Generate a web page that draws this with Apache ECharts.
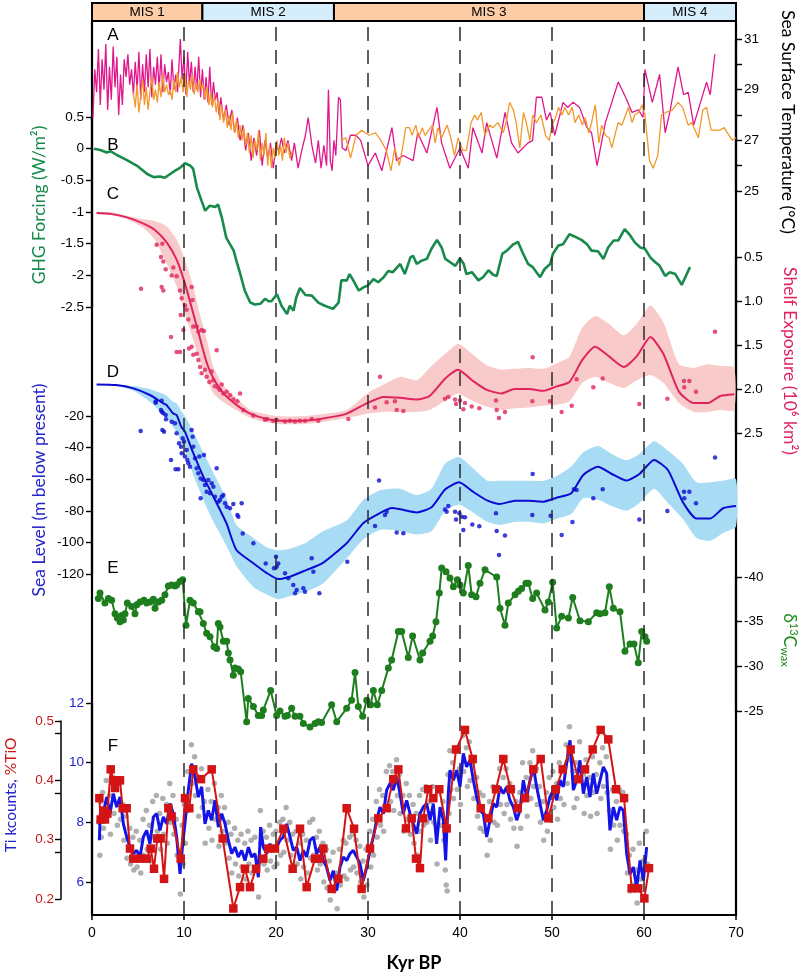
<!DOCTYPE html>
<html><head><meta charset="utf-8">
<script src="https://cdn.jsdelivr.net/npm/echarts@6/dist/echarts.min.js"></script>
<style>html,body{margin:0;padding:0;background:#fff}#c{width:807px;height:977px}</style>
</head><body><div id="c"></div>
<script>
// ---------- DATA ----------
const misStarts = [0, 12, 26.3, 60];
const misEnds   = [12, 26.3, 60, 70];
const misLabels = ['MIS 1', 'MIS 2', 'MIS 3', 'MIS 4'];
const dashedAt  = [10, 20, 30, 40, 50, 60];

// A: SST (°C)
const sstMagenta = [[0.1,27.9],[0.3,29.8],[0.5,28.9],[0.7,30.6],[0.9,28.4],[1.1,30.2],[1.3,29.0],[1.5,30.8],[1.7,28.2],[1.9,29.9],[2.1,28.6],[2.3,30.7],[2.5,29.1],[2.7,30.3],[2.9,28.0],[3.1,29.6],[3.3,28.4],[3.5,30.2],[3.7,29.5],[3.9,30.4],[4.1,29.2],[4.3,29.8],[4.5,28.8],[4.7,30.1],[4.9,29.0],[5.1,30.5],[5.3,28.6],[5.5,30.0],[5.7,28.9],[5.9,30.4],[6.1,29.1],[6.3,30.6],[6.5,28.7],[6.7,29.9],[6.9,29.2],[7.1,30.3],[7.3,29.0],[7.5,30.4],[7.7,28.9],[7.9,30.0],[8.1,29.3],[8.3,29.7],[8.5,28.8],[8.7,30.2],[8.9,29.0],[9.1,29.6],[9.3,28.9],[9.6,31.0],[9.8,29.4],[10.0,30.3],[10.2,28.8],[10.4,30.5],[10.6,29.2],[10.8,30.1],[11.0,28.9],[11.2,29.9],[11.4,29.0],[11.6,30.3],[11.8,28.7],[12.0,29.8],[12.2,28.6],[12.4,29.5],[12.6,28.5],[12.8,29.9],[13.0,28.4],[13.2,29.3],[13.4,28.6],[13.6,28.9],[13.8,28.0],[14.0,28.7],[14.3,27.8],[14.6,28.4],[14.9,27.6],[15.2,28.2],[15.5,27.3],[15.8,27.9],[16.1,27.0],[16.4,27.6],[16.7,26.6],[17.0,27.3],[17.3,26.2],[17.6,27.1],[17.9,26.4],[18.2,27.4],[18.5,26.0],[18.8,27.0],[19.1,26.3],[19.4,26.9],[19.7,25.9],[20.0,26.8],[20.3,26.6],[20.6,27.1],[20.9,26.5],[21.3,27.0],[21.7,26.2],[22.0,26.9],[22.4,25.9],[22.8,26.6],[23.2,27.2],[23.5,27.9],[23.9,26.8],[24.3,26.1],[24.6,27.0],[24.9,25.9],[25.2,26.8],[25.5,26.0],[25.7,29.0],[25.9,26.2],[26.1,25.8],[26.3,27.0],[26.5,26.4],[26.8,28.7],[27.0,28.6],[27.2,26.7],[27.6,26.6],[28.1,27.2],[28.7,27.2],[29.2,27.0],[30.0,26.0],[30.8,26.5],[31.5,25.8],[32.6,27.5],[33.1,26.2],[33.8,26.4],[34.9,26.2],[35.4,27.3],[36.4,26.5],[37.5,28.3],[38.0,26.9],[38.9,25.9],[40.0,26.7],[40.9,25.9],[41.4,27.5],[42.4,26.5],[42.9,27.7],[44.0,26.3],[44.9,28.1],[45.6,26.9],[46.3,26.5],[47.4,26.9],[47.9,27.0],[48.3,28.7],[48.9,28.7],[49.4,27.8],[49.8,28.1],[50.3,27.2],[51.2,28.5],[51.7,28.3],[52.3,28.5],[53.0,28.3],[53.8,27.5],[54.3,27.3],[54.9,26.0],[55.8,27.7],[56.5,28.5],[56.7,28.5],[57.2,29.3],[58.0,28.7],[58.7,28.1],[59.4,28.2],[59.9,27.9],[60.1,29.8],[60.9,28.5],[61.7,29.6],[62.3,27.3],[62.8,28.1],[63.7,29.9],[64.3,28.8],[64.8,28.9],[65.4,27.6],[66.8,29.3],[67.2,28.8],[67.7,30.4]];
const sstOrange = [[4.5,28.9],[4.7,28.3],[4.9,29.2],[5.1,28.1],[5.3,28.8],[5.5,29.4],[5.7,28.4],[5.9,29.1],[6.1,28.2],[6.3,28.9],[6.5,29.5],[6.7,28.6],[6.9,29.0],[7.1,28.5],[7.3,29.3],[7.5,28.7],[7.7,29.6],[7.9,28.9],[8.1,29.2],[8.3,28.8],[8.5,29.0],[8.7,28.6],[8.9,29.4],[9.1,28.9],[9.3,29.7],[9.5,29.1],[9.7,29.5],[9.9,28.9],[10.1,29.6],[10.3,28.7],[10.5,29.4],[10.7,29.0],[10.9,29.6],[11.1,28.8],[11.3,29.3],[11.5,28.9],[11.7,29.4],[11.9,29.0],[12.1,29.2],[12.3,28.6],[12.5,29.1],[12.7,28.4],[12.9,28.9],[13.1,28.3],[13.3,28.8],[13.5,28.1],[13.7,28.6],[13.9,27.8],[14.1,28.4],[14.3,27.7],[14.5,28.2],[14.7,27.5],[14.9,28.0],[15.1,27.4],[15.3,28.1],[15.5,27.3],[15.7,27.8],[15.9,27.1],[16.1,27.6],[16.3,27.0],[16.5,27.5],[16.7,26.8],[16.9,27.3],[17.1,26.5],[17.3,27.2],[17.5,26.3],[17.7,27.0],[17.9,26.6],[18.1,27.4],[18.3,26.2],[18.5,26.9],[18.7,26.4],[18.9,27.3],[19.1,26.0],[19.3,26.8],[19.5,25.9],[19.7,26.7],[19.9,26.3],[20.1,27.0],[20.3,26.4],[20.5,26.8],[20.7,26.2],[20.9,27.1],[21.1,26.5],[21.3,26.9],[21.5,26.3],[21.8,26.6],[null,null],[27.0,27.0],[27.6,27.1],[28.1,26.3],[28.7,27.2],[29.3,27.4],[30.1,27.2],[30.8,27.3],[31.4,27.0],[32.0,26.6],[32.5,25.8],[32.9,26.7],[33.2,26.3],[33.4,26.0],[33.8,26.8],[34.1,27.5],[34.5,27.5],[34.8,27.2],[35.2,27.6],[35.5,27.1],[35.9,27.5],[36.2,27.2],[36.6,27.4],[37.0,27.6],[37.3,26.9],[37.6,27.5],[38.0,27.1],[38.6,27.6],[39.0,27.1],[39.4,26.4],[39.8,27.1],[40.3,26.6],[40.7,26.6],[41.2,27.7],[41.6,28.0],[41.9,27.8],[42.3,28.1],[42.7,27.2],[43.2,27.6],[43.6,27.5],[44.1,27.7],[44.7,27.3],[45.0,27.7],[45.4,28.5],[45.8,28.2],[46.1,27.7],[46.5,26.7],[46.9,28.1],[47.2,27.7],[47.6,27.0],[47.9,28.0],[48.3,27.7],[48.8,28.0],[49.3,27.2],[49.7,27.0],[50.0,27.6],[50.4,27.9],[50.7,28.3],[51.1,28.0],[51.4,28.3],[51.8,28.0],[52.2,28.3],[52.5,27.7],[52.9,28.0],[53.3,27.6],[53.6,27.9],[54.0,27.3],[54.3,27.7],[54.7,28.4],[55.1,26.9],[55.4,27.6],[55.8,27.2],[56.2,27.1],[56.5,26.7],[56.9,27.3],[57.2,27.7],[57.6,27.6],[57.9,27.9],[58.3,28.3],[58.7,27.7],[59.0,28.0],[59.4,28.1],[59.8,28.4],[60.1,28.0],[60.6,26.2],[61.0,25.9],[61.5,26.4],[61.9,28.0],[62.4,28.1],[63.1,28.2],[63.7,28.5],[64.2,28.3],[64.8,27.6],[65.2,27.7],[65.9,27.1],[66.4,28.2],[66.8,28.3],[67.3,27.4],[68.2,27.4],[68.7,27.5],[69.6,27.0],[70.0,27.1]];

// B: GHG forcing (W/m2)
const ghg = [[0.2,0],[0.9,-0.02],[1.6,-0.06],[2.0,-0.04],[2.7,-0.1],[3.8,-0.18],[4.9,-0.27],[6.0,-0.4],[6.7,-0.45],[7.4,-0.44],[7.9,-0.46],[8.5,-0.4],[9.0,-0.35],[9.6,-0.3],[10.1,-0.23],[10.7,-0.27],[11.0,-0.32],[11.4,-0.61],[11.9,-0.82],[12.3,-0.98],[12.8,-0.9],[13.4,-0.92],[13.7,-0.88],[14.1,-1.08],[14.6,-1.41],[15.4,-1.61],[15.7,-1.77],[16.1,-1.97],[16.6,-2.24],[17.2,-2.43],[17.7,-2.46],[18.3,-2.45],[18.8,-2.37],[19.2,-2.41],[19.5,-2.41],[20.1,-2.30],[20.6,-2.48],[21.2,-2.61],[21.5,-2.48],[21.9,-2.56],[22.2,-2.35],[22.6,-2.2],[23.2,-2.31],[23.9,-2.32],[24.6,-2.43],[25.3,-2.48],[26.2,-2.53],[26.8,-2.43],[27.1,-2.08],[27.7,-2.08],[28.0,-1.98],[28.4,-2.08],[29.0,-2.24],[29.5,-2.19],[30.0,-2.16],[30.6,-2.06],[31.1,-2.11],[31.7,-2.03],[32.2,-1.93],[32.7,-1.95],[33.5,-1.82],[34.0,-1.98],[34.6,-1.72],[34.9,-1.69],[35.3,-1.82],[35.8,-1.77],[36.4,-1.74],[36.9,-1.58],[37.5,-1.44],[38.0,-1.56],[38.4,-1.74],[38.9,-1.79],[39.5,-1.85],[40.0,-1.73],[40.4,-1.82],[40.7,-1.98],[41.3,-1.95],[42.0,-2.08],[42.5,-2.03],[43.1,-1.92],[43.6,-1.99],[44.0,-2.01],[44.6,-1.66],[45.1,-1.61],[45.8,-1.51],[46.3,-1.47],[46.8,-1.64],[47.4,-1.82],[47.9,-1.87],[48.7,-2.03],[49.2,-1.9],[49.8,-1.82],[50.1,-1.66],[50.7,-1.53],[51.2,-1.51],[51.9,-1.35],[52.5,-1.39],[53.2,-1.44],[53.8,-1.51],[54.3,-1.61],[55.0,-1.62],[55.6,-1.74],[56.1,-1.56],[56.7,-1.45],[57.2,-1.45],[57.9,-1.27],[58.5,-1.37],[59.0,-1.48],[59.6,-1.56],[60.1,-1.58],[60.7,-1.72],[61.2,-1.79],[61.7,-1.85],[62.3,-2.01],[62.8,-1.95],[63.4,-1.98],[64.1,-2.15],[65.0,-1.87]];

// C: Shelf exposure (10^6 km2)
const shelfX    = [0.5,2,3.8,5.6,6.8,8.1,9.2,10.1,11.0,11.7,12.5,13.2,14.3,15.7,17.2,19,20.4,22.6,24.8,27.7,29.9,31.7,33.5,35.3,36.7,38.4,39.8,41.3,42.9,44.5,45.9,47.5,49.1,50.5,51.9,53.3,54.7,56.2,57.8,59.2,60.7,62.1,63.8,65.4,66.9,68.3,69.8];
const shelfMid  = [0.0,0.01,0.05,0.12,0.19,0.33,0.53,0.80,1.14,1.41,1.71,1.88,2.05,2.18,2.28,2.34,2.36,2.36,2.34,2.28,2.16,2.09,2.10,2.12,2.08,1.88,1.78,1.90,2.01,2.05,2.00,2.00,2.02,1.97,1.92,1.67,1.52,1.63,1.75,1.63,1.41,1.60,2.03,2.16,2.16,2.08,2.06];
const shelfLow  = [-0.01,-0.01,0.03,0.07,0.09,0.15,0.3,0.53,0.83,1.14,1.45,1.75,1.96,2.1,2.24,2.29,2.31,2.31,2.29,2.24,2.05,1.95,1.86,1.9,1.76,1.6,1.49,1.6,1.73,1.78,1.77,1.76,1.77,1.71,1.63,1.3,1.17,1.26,1.39,1.26,1.05,1.24,1.72,1.76,1.72,1.74,1.76];
const shelfHigh = [0.01,0.02,0.07,0.17,0.3,0.57,0.83,1.14,1.44,1.67,1.88,2.05,2.15,2.24,2.33,2.38,2.40,2.40,2.38,2.33,2.28,2.26,2.26,2.26,2.24,2.13,2.05,2.13,2.2,2.24,2.22,2.21,2.19,2.18,2.14,1.93,1.86,1.93,1.99,1.9,1.84,1.93,2.16,2.26,2.26,2.24,2.24];
const shelfDots = [[5.33,0.86],[7.03,0.36],[7.65,0.35],[7.5,0.50],[7.75,0.55],[8.01,0.64],[7.57,0.84],[7.75,0.88],[8.66,0.71],[8.84,0.62],[9.2,0.72],[9.57,0.88],[9.75,0.97],[9.64,1.16],[10.1,1.05],[9.93,1.33],[10.29,1.10],[10.47,1.21],[10.83,0.84],[10.94,0.99],[11.01,1.29],[11.38,1.29],[11.56,1.35],[11.92,1.33],[12.17,1.34],[8.59,1.41],[9.2,1.58],[9.57,1.58],[10.54,1.54],[10.83,1.52],[11.01,1.61],[11.38,1.60],[11.56,1.67],[11.74,1.75],[11.92,1.82],[12.28,1.78],[12.46,1.86],[12.75,1.92],[13.0,1.80],[13.19,1.90],[13.37,1.97],[13.55,1.56],[13.73,1.99],[13.91,2.01],[14.1,1.95],[14.28,2.05],[14.64,2.03],[15.0,2.07],[15.36,2.12],[15.8,2.14],[16.09,2.05],[16.45,2.24],[17.54,2.30],[18.8,2.35],[18.99,2.34],[19.7,2.36],[20.07,2.35],[20.98,2.37],[21.52,2.36],[22.07,2.37],[22.6,2.36],[23.15,2.36],[23.88,2.34],[24.6,2.36],[27.86,2.34],[30.76,2.21],[31.3,1.86],[32.03,2.15],[32.93,2.14],[33.12,2.24],[33.84,2.25],[38.37,2.11],[38.73,2.09],[39.46,2.12],[39.57,2.17],[40.0,2.13],[40.36,2.23],[40.54,2.16],[41.27,2.20],[42.1,2.22],[43.91,2.13],[43.99,2.24],[44.24,2.33],[44.89,2.26],[47.9,1.64],[47.86,2.14],[49.78,2.14],[51.05,2.26],[52.14,2.19],[52.68,1.89],[54.49,1.98],[55.51,1.88],[59.49,2.17],[62.54,2.11],[64.35,1.91],[64.93,1.91],[64.38,1.98],[65.65,2.03],[67.72,1.35]];

// D: Sea level (m below present)
const seaX    = [0.5,2.6,4.5,6.3,7.75,8.1,8.8,9.2,9.7,10.1,11.0,12.1,13.2,14.6,15.7,17.5,19,20.25,21.5,23.3,25.1,27.7,29.5,31.3,32.6,33.5,35.3,36.9,38.4,39.9,41.4,43.0,44.3,46.0,47.4,49.1,50.5,52.1,53.4,55.0,56.5,58.1,59.5,61.1,62.6,64.2,65.7,67.2,68.6,70];
const seaMid  = [0,-0.4,-2.5,-6.7,-12,-13,-18.3,-19.4,-26.8,-29.9,-43.4,-58.4,-71.1,-87.7,-104.8,-113,-119.4,-123.2,-121.7,-117.5,-113,-100.4,-87.7,-81.4,-78.2,-79,-81,-77.8,-66.4,-62,-67.9,-73.6,-75.7,-73.6,-73.6,-74.2,-71.7,-68.9,-57.3,-52.1,-56.7,-60.9,-56.7,-47.8,-54.2,-74.2,-84.8,-84.8,-78.4,-77];
const seaTop  = [0,0,-1,-3,-6,-7,-11,-12,-17,-20,-30,-43,-56,-72,-89,-97,-103,-105,-104,-100,-93,-86,-73,-67,-66,-66,-70,-66,-50,-46,-53,-61,-61,-61,-61,-61,-58,-52,-43,-39,-44,-48,-44,-36,-42,-50,-62,-62,-61,-60];
const seaBot  = [0,-1,-4,-11,-19,-21,-27,-30,-37,-42,-57,-73,-87,-102,-115,-128,-133,-136,-134,-131,-126,-110,-98,-92,-92,-93,-95,-93,-80,-76,-81,-87,-89,-87,-87,-88,-85,-82,-72,-73,-77,-80,-75,-66,-75,-85,-97,-99,-94,-90];
const seaDots = [[5.29,-29.5],[6.92,-10.9],[7.57,-10.3],[7.5,-16.2],[7.75,-18.3],[6.92,-11.6],[7.57,-17.3],[7.65,-28.9],[7.83,-29.9],[8.01,-19.4],[8.04,-22.1],[8.66,-23.6],[8.59,-47.8],[9.02,-24.6],[9.2,-30.9],[9.46,-37.3],[9.38,-53.7],[9.09,-53.7],[9.67,-39.4],[9.75,-43.6],[9.86,-34.1],[10.0,-36.2],[10.1,-45.7],[10.29,-41.5],[10.36,-47.8],[10.47,-49.9],[10.65,-52.1],[10.83,-28.9],[10.94,-33.1],[11.01,-39.4],[11.2,-46.8],[11.38,-53.1],[11.56,-56.3],[11.67,-45.7],[11.81,-59.5],[12.1,-60.5],[12.17,-44.7],[12.28,-63.7],[11.81,-72.1],[12.46,-67.9],[12.64,-60.5],[12.83,-68.9],[13.01,-62.6],[13.19,-64.7],[13.37,-71.1],[13.55,-53.1],[13.73,-74.2],[13.91,-73.2],[14.1,-71.1],[14.28,-70.0],[14.46,-75.3],[14.64,-77.4],[15.0,-78.4],[15.36,-75.7],[15.8,-82.7],[15.9,-83.7],[16.27,-75.3],[16.38,-94.3],[17.54,-100.6],[18.88,-113.3],[20.0,-109.1],[20.07,-115.4],[20.25,-113.3],[19.78,-116.4],[20.98,-119.6],[21.34,-122.7],[21.88,-127],[22.07,-132.2],[22.25,-130.1],[22.97,-129],[23.15,-131.2],[23.88,-110.1],[24.06,-118.5],[24.71,-132.2],[27.75,-112.2],[30.76,-89.6],[31.2,-60.9],[31.85,-82.7],[32.03,-80.6],[33.12,-93.7],[33.84,-94.2],[38.37,-79.1],[38.73,-77.0],[38.55,-80.6],[39.46,-80.6],[39.57,-85.5],[39.93,-81.6],[40.18,-83.7],[40.36,-92.1],[40.54,-84.1],[41.34,-88.6],[42.1,-89.8],[43.91,-81.6],[43.99,-92.8],[44.24,-108],[44.89,-95.7],[47.9,-56.7],[47.86,-82.7],[49.85,-83.1],[51.05,-95.3],[52.22,-87.1],[52.39,-66.4],[52.68,-66.8],[54.49,-72.1],[55.51,-66.4],[59.49,-85.5],[62.54,-80.2],[64.35,-68],[64.93,-68],[64.38,-72.1],[65.65,-75.3],[67.72,-46.2]];

// E: d13C wax (permil)
const d13c = [[0.69,-37.6],[0.87,-38.2],[1.41,-37.1],[1.78,-37.6],[2.14,-37.4],[2.5,-35.9],[2.75,-35.4],[3.04,-35.0],[3.22,-35.7],[3.41,-35.2],[3.59,-35.9],[3.84,-37.1],[4.31,-36.7],[4.67,-35.9],[4.86,-36.9],[5.22,-37.2],[5.65,-37.4],[5.94,-37.1],[6.3,-37.2],[6.67,-37.5],[6.85,-36.5],[7.21,-37.2],[7.57,-37.4],[7.93,-38.0],[8.3,-39.0],[8.66,-39.1],[9.02,-39.0],[9.2,-39.1],[9.57,-39.5],[9.86,-39.7],[10.22,-34.6],[10.65,-37.4],[11.01,-37.1],[11.56,-36.1],[11.74,-36.1],[12.1,-34.8],[12.46,-33.7],[12.83,-33.3],[13.26,-32.2],[13.55,-32.0],[13.73,-34.8],[13.91,-34.4],[14.28,-32.8],[14.64,-32.8],[14.82,-31.5],[15.0,-30.7],[15.36,-29.0],[15.54,-29.8],[15.9,-29.7],[16.16,-29.4],[16.81,-23.8],[16.99,-26.4],[17.54,-25.5],[18.08,-24.5],[18.44,-24.5],[18.62,-25.1],[19.42,-27.3],[20.07,-24.5],[20.43,-25.0],[20.98,-24.4],[21.23,-24.5],[21.7,-25.3],[22.07,-24.4],[22.6,-24.4],[22.97,-23.6],[23.7,-23.2],[24.24,-23.6],[24.6,-23.8],[24.96,-23.7],[26.05,-25.7],[26.6,-23.8],[27.68,-25.3],[28.22,-26.2],[28.59,-29.3],[28.95,-25.5],[29.42,-24.4],[29.86,-26.2],[30.29,-25.7],[30.58,-27.3],[31.01,-25.7],[31.49,-27.3],[32.21,-29.8],[32.57,-30.7],[33.3,-33.9],[33.66,-33.9],[34.38,-31.0],[34.85,-33.4],[35.65,-30.7],[35.94,-31.5],[36.74,-32.8],[37.03,-33.4],[37.39,-35.0],[37.75,-38.2],[38.01,-41.0],[38.48,-40.6],[38.91,-39.9],[39.28,-38.9],[39.71,-39.7],[40.0,-39.1],[40.36,-38.2],[40.9,-41.3],[41.27,-38.0],[41.74,-37.8],[42.17,-39.3],[42.72,-40.8],[43.99,-40.0],[44.35,-36.5],[44.89,-34.6],[45.25,-37.1],[45.98,-38.0],[46.34,-38.4],[46.7,-38.7],[47.17,-39.3],[47.43,-39.3],[47.9,-37.6],[48.33,-38.2],[49.24,-36.3],[49.6,-37.2],[50.07,-39.4],[50.51,-34.3],[51.05,-35.6],[51.78,-35.4],[52.25,-37.7],[53.04,-35.1],[53.95,-35.0],[54.86,-36.0],[55.22,-35.9],[55.76,-36.0],[56.23,-38.9],[56.67,-36.5],[57.39,-36.1],[57.93,-31.7],[58.48,-32.5],[58.91,-32.5],[59.38,-30.4],[59.75,-33.9],[60.11,-33.3],[60.29,-32.8]];

// F: Ti kcounts (blue line, grey raw) and %TiO (red)
const tiBlue = [[0.8,7.4],[0.9,8.3],[1.2,8.29],[1.6,8.85],[1.96,8.29],[2.32,8.96],[2.68,8.51],[3.04,8.85],[3.41,7.95],[3.77,7.51],[4.13,7.17],[4.49,6.95],[4.86,7.06],[5.22,6.84],[5.58,7.51],[5.94,7.73],[6.3,7.28],[6.67,8.18],[7.03,8.29],[7.39,7.73],[7.75,8.18],[8.12,7.95],[8.48,8.63],[8.84,8.29],[9.2,7.51],[9.57,6.27],[9.86,7.28],[10.1,7.95],[10.47,9.08],[10.83,9.97],[11.2,9.52],[11.56,8.85],[11.92,9.19],[12.28,7.95],[12.64,8.4],[13.0,8.07],[13.37,8.74],[13.73,7.84],[14.1,8.29],[14.46,7.95],[14.82,7.4],[15.18,6.95],[15.54,7.17],[15.9,6.84],[16.27,7.06],[16.63,6.72],[17.0,7.17],[17.35,6.84],[17.72,6.95],[18.08,6.16],[18.33,7.84],[18.62,7.17],[18.99,6.95],[19.35,7.28],[19.71,7.06],[20.07,7.17],[20.43,7.4],[20.8,7.51],[21.16,7.95],[21.52,7.51],[21.88,7.06],[22.25,7.17],[22.61,6.72],[22.97,7.06],[23.33,6.84],[23.7,7.4],[24.06,7.51],[24.42,6.95],[24.78,7.17],[25.14,6.72],[25.5,6.5],[25.87,6.05],[26.23,6.38],[26.6,5.71],[26.96,6.5],[27.32,6.84],[27.68,6.72],[28.04,6.95],[28.4,7.06],[28.77,6.84],[29.13,6.61],[29.49,6.05],[29.86,6.5],[30.22,7.06],[30.58,7.51],[30.94,8.07],[31.3,8.51],[31.67,8.29],[32.03,9.08],[32.39,9.3],[32.75,9.08],[33.12,9.52],[33.48,8.96],[33.84,8.29],[34.2,8.74],[34.57,8.29],[34.93,7.95],[35.29,7.62],[35.65,8.29],[36.0,8.51],[36.38,8.63],[36.75,8.07],[37.1,8.63],[37.46,7.28],[37.83,8.51],[38.19,8.07],[38.44,6.72],[38.73,8.96],[38.91,9.75],[39.28,9.41],[39.64,9.75],[40.0,9.19],[40.36,10.31],[40.72,9.86],[41.09,10.08],[41.45,9.41],[41.81,8.85],[42.17,8.4],[42.54,8.29],[42.9,7.51],[43.26,8.07],[43.62,8.63],[43.99,8.51],[44.35,9.19],[44.71,8.96],[45.07,9.19],[45.43,8.74],[45.8,8.51],[46.16,8.07],[46.52,8.4],[46.88,9.41],[47.25,8.85],[47.61,9.41],[47.97,9.86],[48.33,9.19],[48.7,8.63],[49.06,8.07],[49.42,8.4],[49.78,8.85],[50.14,9.08],[50.51,8.74],[50.87,9.41],[51.23,9.19],[51.59,9.97],[51.96,10.75],[52.32,9.08],[52.68,9.41],[53.04,10.08],[53.41,8.96],[53.77,9.52],[54.13,8.85],[54.49,9.64],[54.86,8.96],[55.22,9.41],[55.58,9.86],[55.94,9.64],[56.3,7.73],[56.67,8.51],[57.03,8.07],[57.39,8.51],[57.75,8.4],[58.12,6.95],[58.48,6.27],[58.84,6.5],[59.2,5.82],[59.57,6.72],[59.93,6.05],[60.29,7.17]];
const tiGrey = [[0.75,8.0],[0.85,6.9],[0.95,8.7],[1.0,7.5],[1.15,9.0],[1.25,7.8],[1.55,9.4],[1.65,8.2],[1.9,8.9],[2.0,7.6],[2.3,9.5],[2.4,8.3],[2.6,9.2],[2.75,7.9],[3.0,9.3],[3.1,8.1],[3.35,8.6],[3.45,7.4],[3.7,8.2],[3.8,6.8],[4.1,7.8],[4.2,6.6],[4.45,7.5],[4.55,6.4],[4.8,7.7],[4.9,6.5],[5.2,7.4],[5.3,6.3],[5.55,8.1],[5.6,6.9],[5.9,8.4],[6.0,7.1],[6.25,7.9],[6.35,6.7],[6.6,8.7],[6.7,7.5],[7.0,8.9],[7.1,7.7],[7.35,8.3],[7.45,7.1],[7.7,8.8],[7.8,7.6],[8.1,8.6],[8.2,7.3],[8.45,9.3],[8.55,8.0],[8.8,8.9],[8.9,7.6],[9.15,8.1],[9.25,6.9],[9.5,6.9],[9.6,5.6],[9.8,7.9],[9.9,6.6],[10.05,8.6],[10.15,7.3],[10.4,9.7],[10.5,8.4],[10.8,10.6],[10.9,9.3],[11.15,10.2],[11.25,8.9],[11.5,9.5],[11.6,8.2],[11.9,9.8],[12.0,8.5],[12.2,8.7],[12.3,7.3],[12.6,9.1],[12.7,7.8],[12.95,8.7],[13.05,7.4],[13.3,9.3],[13.4,8.1],[13.7,8.5],[13.8,7.2],[14.05,8.9],[14.15,7.7],[14.4,8.5],[14.5,7.3],[14.8,8.0],[14.9,6.8],[15.1,7.6],[15.2,6.3],[15.5,7.8],[15.6,6.6],[15.85,7.4],[15.95,6.2],[16.2,7.6],[16.3,6.5],[16.6,7.3],[16.7,6.1],[16.95,7.7],[17.05,6.6],[17.3,7.4],[17.4,6.3],[17.7,7.5],[17.8,6.4],[18.0,6.8],[18.1,5.5],[18.3,8.4],[18.4,7.3],[18.6,7.7],[18.7,6.6],[18.95,7.5],[19.05,6.4],[19.3,7.9],[19.4,6.7],[19.7,7.6],[19.8,6.5],[20.0,7.7],[20.1,6.6],[20.4,8.0],[20.5,6.9],[20.75,8.1],[20.85,7.0],[21.1,8.5],[21.2,7.4],[21.5,8.0],[21.6,6.9],[21.8,7.6],[21.9,6.5],[22.2,7.7],[22.3,6.6],[22.6,7.3],[22.7,6.1],[22.9,7.6],[23.0,6.5],[23.3,7.4],[23.4,6.3],[23.65,8.0],[23.75,6.8],[24.0,8.1],[24.1,6.9],[24.4,7.5],[24.5,6.4],[24.7,7.7],[24.8,6.6],[25.1,7.3],[25.2,6.0],[25.45,7.1],[25.55,5.8],[25.8,6.7],[25.9,5.4],[26.2,7.0],[26.3,5.7],[26.55,6.3],[26.65,5.1],[26.9,7.1],[27.0,5.9],[27.3,7.4],[27.4,6.2],[27.6,7.3],[27.7,6.1],[28.0,7.5],[28.1,6.4],[28.35,7.6],[28.45,6.5],[28.7,7.4],[28.8,6.3],[29.1,7.2],[29.2,6.0],[29.45,6.7],[29.55,5.5],[29.8,7.1],[29.9,5.9],[30.2,7.7],[30.3,6.5],[30.5,8.1],[30.6,6.9],[30.9,8.7],[31.0,7.5],[31.25,9.1],[31.35,7.9],[31.6,8.9],[31.7,7.7],[32.0,9.7],[32.1,8.5],[32.35,9.9],[32.45,8.7],[32.7,9.7],[32.8,8.4],[33.1,10.1],[33.2,8.9],[33.4,9.6],[33.5,8.3],[33.8,8.9],[33.9,7.7],[34.15,9.3],[34.25,8.1],[34.5,8.9],[34.6,7.6],[34.9,8.6],[35.0,7.3],[35.25,8.3],[35.35,6.9],[35.6,8.9],[35.7,7.7],[35.95,9.1],[36.05,7.9],[36.3,9.2],[36.4,8.0],[36.7,8.7],[36.8,7.4],[37.05,9.2],[37.15,8.0],[37.4,7.9],[37.5,6.6],[37.8,9.1],[37.9,7.9],[38.15,8.7],[38.25,7.4],[38.4,6.4],[38.5,5.9],[38.6,5.7],[38.7,9.6],[38.8,8.3],[38.9,10.4],[39.0,9.1],[39.2,10.0],[39.3,8.8],[39.6,10.4],[39.7,9.1],[39.95,9.8],[40.05,8.6],[40.3,10.9],[40.4,9.7],[40.7,10.5],[40.8,9.2],[41.0,10.7],[41.1,9.4],[41.4,10.0],[41.5,8.8],[41.8,9.5],[41.9,8.2],[42.1,9.0],[42.2,7.8],[42.5,8.9],[42.6,7.7],[42.85,8.1],[42.95,6.9],[43.2,8.7],[43.3,7.4],[43.6,9.2],[43.7,8.0],[43.95,9.1],[44.05,7.9],[44.3,9.8],[44.4,8.6],[44.7,9.5],[44.8,8.3],[45.0,9.8],[45.1,8.6],[45.4,9.3],[45.5,8.1],[45.75,9.1],[45.85,7.8],[46.1,8.7],[46.2,7.2],[46.5,9.0],[46.6,7.8],[46.8,10.0],[46.9,8.8],[47.2,9.5],[47.3,8.2],[47.6,10.0],[47.7,8.8],[47.9,10.4],[48.0,9.2],[48.3,9.8],[48.4,8.6],[48.65,9.2],[48.75,8.0],[49.0,8.7],[49.1,7.4],[49.4,9.0],[49.5,7.7],[49.7,9.5],[49.8,8.2],[50.1,9.7],[50.2,8.5],[50.5,9.3],[50.6,8.1],[50.8,10.0],[50.9,8.8],[51.2,9.8],[51.3,8.6],[51.55,10.6],[51.65,9.3],[51.9,11.2],[52.0,10.1],[52.3,9.7],[52.4,8.5],[52.6,10.0],[52.7,8.8],[53.0,10.7],[53.1,9.4],[53.4,9.6],[53.5,8.3],[53.7,10.1],[53.8,8.9],[54.1,9.5],[54.2,8.2],[54.4,10.2],[54.5,9.0],[54.8,9.6],[54.9,8.3],[55.2,10.0],[55.3,8.8],[55.5,10.5],[55.6,9.2],[55.9,10.2],[56.0,9.0],[56.25,8.4],[56.35,7.1],[56.6,9.1],[56.7,7.9],[57.0,8.7],[57.1,7.4],[57.3,9.1],[57.4,7.9],[57.7,9.0],[57.8,7.7],[58.1,7.6],[58.2,6.3],[58.4,6.9],[58.5,5.7],[58.8,7.1],[58.9,5.9],[59.15,6.4],[59.25,5.3],[59.5,7.3],[59.6,6.1],[59.9,6.7],[60.0,5.5],[60.25,7.7],[60.35,6.6]];
const tiRed = [[0.8,0.37],[0.94,0.334],[1.23,0.349],[1.41,0.334],[1.67,0.344],[2.03,0.4185],[2.32,0.40],[2.5,0.387],[2.75,0.40],[3.04,0.40],[3.33,0.353],[3.77,0.353],[4.13,0.285],[4.49,0.268],[5.22,0.268],[5.94,0.268],[6.38,0.285],[6.74,0.251],[7.1,0.302],[7.46,0.302],[7.83,0.234],[8.3,0.353],[8.66,0.339],[9.64,0.268],[10.11,0.37],[10.58,0.353],[11.01,0.4185],[11.85,0.402],[13.01,0.4185],[14.2,0.302],[15.36,0.184],[16.09,0.22],[16.63,0.251],[17.17,0.22],[17.83,0.251],[18.62,0.268],[19.17,0.285],[19.89,0.285],[20.8,0.3185],[21.81,0.251],[22.61,0.3185],[23.33,0.22],[24.24,0.268],[24.7,0.268],[25.14,0.285],[26.05,0.217],[26.78,0.234],[27.68,0.353],[28.48,0.3185],[29.31,0.217],[30.22,0.285],[31.12,0.336],[32.03,0.353],[32.75,0.402],[33.3,0.4185],[34.13,0.319],[34.75,0.336],[35.22,0.268],[35.65,0.252],[36.0,0.336],[36.55,0.385],[37.1,0.37],[37.75,0.385],[38.55,0.319],[39.57,0.452],[40.54,0.485],[41.38,0.436],[42.25,0.353],[43.08,0.336],[43.91,0.385],[44.71,0.436],[45.51,0.385],[46.27,0.353],[47.07,0.37],[47.97,0.4185],[48.77,0.436],[49.6,0.336],[50.4,0.385],[51.16,0.4185],[52.03,0.452],[52.86,0.402],[53.59,0.4185],[54.42,0.452],[55.29,0.485],[56.12,0.469],[56.96,0.385],[57.83,0.37],[58.66,0.218],[59.38,0.218],[60.04,0.201],[60.54,0.252]];

// tick values
const redTickLabels = [0.2, 0.3, 0.4, 0.5];
const redTickMarks  = [0.2, 0.278, 0.3, 0.378, 0.4, 0.479, 0.5];

// ---------- CHART ----------
const FF = '"Liberation Sans", Arial, sans-serif';
const TF = 'Lato, "Liberation Sans", sans-serif';
const TS = 17.5;
const C = {
  magenta:'#E0168C', orange:'#F2982C', ghg:'#178A4C', shelf:'#E0245E', shelfBand:'#F9CACA',
  sea:'#0B0BD2', seaBand:'#A8DBF4', d13c:'#1E7E1E', tiBlue:'#1414E8', grey:'#9B9B9B', red:'#D41414',
  misWarm:'#FCCDA6', misCool:'#D6EEFB'
};
const chart = echarts.init(document.getElementById('c'), null, {renderer:'canvas'});

const L = 92, R = 71;
const grids = [
  {left:L, right:R, top:21, bottom:54},      // 0 frame
  {left:L, right:R, top:3, height:18},       // 1 MIS
  {left:L, right:R, top:39, height:152},     // 2 A
  {left:L, right:R, top:117, height:190},    // 3 B
  {left:L, right:R, top:257, height:176},    // 4 C
  {left:L, right:R, top:416, height:158},    // 5 D
  {left:L, right:R, top:577, height:134},    // 6 E
  {left:L, right:R, top:703, height:179},    // 7 F blue
  {left:L, right:R, top:721, height:178}     // 8 F red
];
const xAxes = grids.map((g, i) => i === 0 ? {
  gridIndex:0, type:'value', min:0, max:70, interval:10,
  axisLine:{show:true, onZero:false, lineStyle:{color:'#000', width:2.2}},
  axisTick:{show:true, length:5, lineStyle:{color:'#000', width:1.5}},
  axisLabel:{color:'#000', fontSize:14, margin:11, fontFamily:FF},
  splitLine:{show:false},
  name:'Kyr BP', nameLocation:'middle', nameGap:39,
  nameTextStyle:{color:'#000', fontSize:18, fontWeight:'bold', fontFamily:TF}
} : {gridIndex:i, type:'value', min:0, max:70, show:false});

const tick = () => ({show:true, inside:false, length:6, lineStyle:{color:'#000', width:1.4}});
const lab = (color) => ({color: color || '#000', fontSize:13.5, fontFamily:FF, margin:8});
const frameLine = () => ({show:true, onZero:false, lineStyle:{color:'#000', width:2.2}});
// yAxis index for grid g: grid0 -> 0 (left) & 1 (right); grid g>=1 -> g+1
const Y = g => g + 1;
const yAxes = [
  {gridIndex:0, type:'value', min:0, max:1, position:'left', axisLine:frameLine(), axisTick:{show:false}, axisLabel:{show:false}, splitLine:{show:false}},
  {gridIndex:0, type:'value', min:0, max:1, position:'right', axisLine:frameLine(), axisTick:{show:false}, axisLabel:{show:false}, splitLine:{show:false}},
  {gridIndex:1, type:'value', min:0, max:1, show:false},
  {gridIndex:2, type:'value', min:25, max:31, interval:1, position:'right', axisLine:frameLine(), axisTick:tick(),
    axisLabel:Object.assign(lab(), {formatter: v => (Math.round(v) % 2 ? String(v) : '')}), splitLine:{show:false}},
  {gridIndex:3, type:'value', min:-2.5, max:0.5, interval:0.5, position:'left', axisLine:frameLine(), axisTick:tick(),
    axisLabel:lab(), splitLine:{show:false}},
  {gridIndex:4, type:'value', min:0.5, max:2.5, interval:0.5, inverse:true, position:'right', axisLine:frameLine(), axisTick:tick(),
    axisLabel:Object.assign(lab(), {formatter: v => v.toFixed(1)}), splitLine:{show:false}},
  {gridIndex:5, type:'value', min:-120, max:-20, interval:20, position:'left', axisLine:frameLine(), axisTick:tick(),
    axisLabel:lab(), splitLine:{show:false}},
  {gridIndex:6, type:'value', min:-40, max:-25, interval:5, inverse:true, position:'right', axisLine:frameLine(), axisTick:tick(),
    axisLabel:lab(), splitLine:{show:false}},
  {gridIndex:7, type:'value', min:6, max:12, interval:2, position:'left', axisLine:frameLine(), axisTick:tick(),
    axisLabel:lab('#2020D0'), splitLine:{show:false}},
  {gridIndex:8, type:'value', min:0.2, max:0.5, interval:0.1, position:'left', offset:31,
    axisLine:{show:true, onZero:false, lineStyle:{color:'#000', width:1.5}},
    axisTick:Object.assign(tick(), {customValues: redTickMarks}),
    axisLabel:Object.assign(lab('#C81818'), {margin:7, customValues: redTickLabels, formatter: v => v.toFixed(1)}),
    splitLine:{show:false}}
];

function band(g, xs, lo, hi, color) {
  return {
    type:'custom', xAxisIndex:g, yAxisIndex:Y(g), z:1, silent:true, clip:false, data:[[xs[0], lo[0]]],
    renderItem: function (params, api) {
      const pts = [];
      for (let i = 0; i < xs.length; i++) pts.push(api.coord([xs[i], lo[i]]));
      for (let i = xs.length - 1; i >= 0; i--) pts.push(api.coord([xs[i], hi[i]]));
      return {type:'polygon', shape:{points:pts, smooth:0.2}, style:{fill:color}};
    }
  };
}
function line(g, data, color, width, z, extra) {
  return Object.assign({type:'line', xAxisIndex:g, yAxisIndex:Y(g), data:data, showSymbol:false, clip:false, z:z||3,
    lineStyle:{color:color, width:width}, itemStyle:{color:color}, connectNulls:false, silent:true}, extra||{});
}
function dots(g, data, color, size, z) {
  return {type:'scatter', xAxisIndex:g, yAxisIndex:Y(g), data:data, symbolSize:size, clip:false, z:z||4, silent:true,
    itemStyle:{color:color}};
}

const misData = misStarts.map((s, i) => [s, misEnds[i], i]);
const series = [
  {type:'line', xAxisIndex:0, yAxisIndex:0, data:[], z:2, silent:true,
    markLine:{silent:true, symbol:['none','none'], label:{show:false}, animation:false,
      lineStyle:{type:[14,9], color:'#2a2a2a', width:1.5}, data: dashedAt.map(v => ({xAxis:v}))}},
  {type:'custom', xAxisIndex:1, yAxisIndex:2, data:misData, z:5, silent:true, clip:false,
    renderItem: function (params, api) {
      const i = api.value(2);
      const p0 = api.coord([api.value(0), 1]);
      const p1 = api.coord([api.value(1), 0]);
      return {type:'rect', shape:{x:p0[0], y:p0[1], width:p1[0]-p0[0], height:p1[1]-p0[1]},
        style:{fill: (i % 2 === 0) ? C.misWarm : C.misCool, stroke:'#000', lineWidth:2},
        textContent:{style:{text: misLabels[i], fill:'#000', fontSize:13.5, fontFamily:FF}},
        textConfig:{position:'inside'}};
    }},
  line(2, sstMagenta, C.magenta, 1.3, 3),
  line(2, sstOrange, C.orange, 1.3, 3),
  line(3, ghg, C.ghg, 2.6, 3),
  band(4, shelfX, shelfLow, shelfHigh, C.shelfBand),
  line(4, shelfX.map((x, i) => [x, shelfMid[i]]), C.shelf, 2, 3, {smooth:0.2}),
  dots(4, shelfDots, C.shelf, 4.5, 4),
  band(5, seaX, seaTop, seaBot, C.seaBand),
  line(5, seaX.map((x, i) => [x, seaMid[i]]), C.sea, 2, 3, {smooth:0.2}),
  dots(5, seaDots, C.sea, 4.5, 4),
  line(6, d13c, C.d13c, 2, 3, {showSymbol:true, symbol:'circle', symbolSize:7}),
  dots(7, tiGrey, C.grey, 5.5, 3),
  line(7, tiBlue, C.tiBlue, 3, 4),
  line(8, tiRed, C.red, 2, 5, {showSymbol:true, symbol:'rect', symbolSize:8.5})
];

function vtext(x, y, rich, text, rot) {
  return {type:'text', x:x, y:y, rotation:rot, silent:true, z:10,
    style:{text:text, rich:rich, align:'center', verticalAlign:'middle', fontFamily:TF, fontSize:TS}};
}
const up = Math.PI / 2, down = -Math.PI / 2;
const graphic = [
  vtext(788, 122, {t:{fill:'#000', fontSize:TS, fontFamily:TF}}, '{t|Sea Surface Temperature (°C)}', down),
  vtext(790, 361, {t:{fill:C.shelf, fontSize:TS, fontFamily:TF}}, '{t|Shelf Exposure (10⁶ km²)}', down),
  vtext(790, 640, {
      t:{fill:'#1E8A1E', fontSize:TS, fontFamily:TF},
      sup:{fill:'#1E8A1E', fontSize:11, fontFamily:TF, padding:[0,0,8,0]},
      sub:{fill:'#1E8A1E', fontSize:11, fontFamily:TF, padding:[10,0,0,0]}
    }, '{t|δ}{sup|13}{t|C}{sub|wax}', down),
  vtext(39, 205, {t:{fill:C.ghg, fontSize:TS, fontFamily:TF}}, '{t|GHG Forcing (W/m²)}', up),
  vtext(39, 490, {t:{fill:'#2424CC', fontSize:TS, fontFamily:TF}}, '{t|Sea Level (m below present)}', up),
  vtext(11, 795, {b:{fill:'#2424CC', fontSize:15.5, fontFamily:TF}, r:{fill:'#C81818', fontSize:15.5, fontFamily:TF}}, '{b|Ti kcounts, }{r|%TiO}', up)
];
const letters = [['A',35],['B',145],['C',194],['D',372],['E',568],['F',746]];
letters.forEach(([t, y]) => graphic.push({type:'text', x:113, y:y, silent:true, z:10,
  style:{text:t, fontSize:17, fontFamily:FF, fill:'#000', align:'center', verticalAlign:'middle'}}));

chart.setOption({
  animation:false,
  backgroundColor:'#fff',
  grid:grids, xAxis:xAxes, yAxis:yAxes, series:series, graphic:graphic
});
</script></body></html>
